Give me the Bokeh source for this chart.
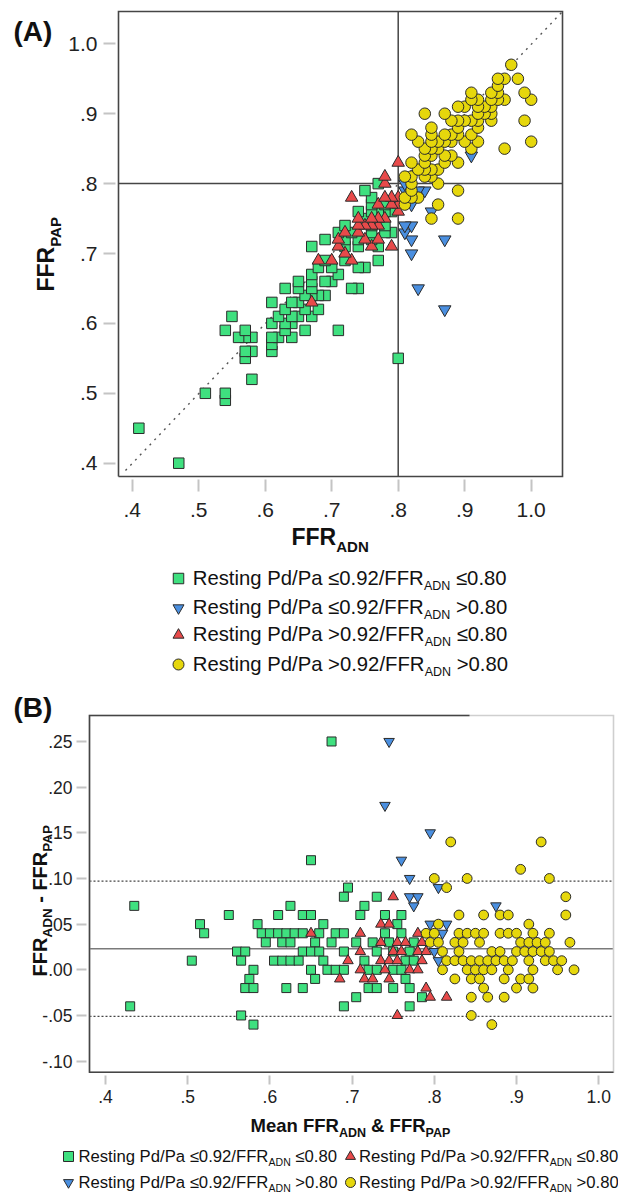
import math
from bokeh.plotting import figure
from bokeh.models import (Range1d, FixedTicker, CustomJSTickFormatter, Label, ColumnDataSource)
from bokeh.layouts import column
from bokeh.embed import file_html
from bokeh.resources import INLINE

# ------------------------------------------------------------------ data
# FFR_ADN / FFR_PAP pairs per group
green_adn = [0.80, 0.71, 0.74,
             0.73, 0.77,
             0.47, 0.66, 0.75,
             0.58, 0.64, 0.67, 0.68, 0.74, 0.77, 0.79,
             0.54, 0.61, 0.69, 0.78,
             0.54, 0.61, 0.62, 0.63, 0.64, 0.65, 0.66, 0.68, 0.70, 0.71, 0.76, 0.78,
             0.61, 0.63, 0.64, 0.67, 0.69, 0.72, 0.74, 0.76, 0.79,
             0.57, 0.58, 0.65, 0.66, 0.67, 0.70, 0.74, 0.76, 0.78,
             0.51, 0.57, 0.61, 0.62, 0.63, 0.64, 0.67, 0.72, 0.77, 0.78,
             0.58, 0.65, 0.67, 0.68, 0.69, 0.72, 0.73, 0.75, 0.76,
             0.57, 0.65, 0.76,
             0.56, 0.57, 0.61, 0.63, 0.71, 0.72, 0.74, 0.76,
             0.69, 0.77,
             0.41, 0.67, 0.75,
             0.54,
             0.55]
green_pap = [0.55, 0.59, 0.65,
             0.65, 0.69,
             0.40, 0.59, 0.68,
             0.52, 0.58, 0.61, 0.62, 0.68, 0.71, 0.73,
             0.49, 0.56, 0.64, 0.73,
             0.50, 0.57, 0.58, 0.59, 0.60, 0.61, 0.62, 0.64, 0.66, 0.67, 0.72, 0.74,
             0.58, 0.60, 0.61, 0.64, 0.66, 0.69, 0.71, 0.73, 0.76,
             0.55, 0.56, 0.63, 0.64, 0.65, 0.68, 0.72, 0.74, 0.76,
             0.50, 0.56, 0.60, 0.61, 0.62, 0.63, 0.66, 0.71, 0.76, 0.77,
             0.58, 0.65, 0.67, 0.68, 0.69, 0.72, 0.73, 0.75, 0.76,
             0.58, 0.66, 0.77,
             0.58, 0.59, 0.63, 0.65, 0.73, 0.74, 0.76, 0.78,
             0.72, 0.80,
             0.45, 0.71, 0.79,
             0.59,
             0.61]

blue_adn = [0.87, 0.83, 0.87, 0.82, 0.82, 0.85, 0.81, 0.82, 0.81, 0.91, 0.82, 0.84, 0.83, 0.81, 0.81]
blue_pap = [0.62, 0.65, 0.72, 0.70, 0.72, 0.76, 0.73, 0.74, 0.74, 0.84, 0.77, 0.79, 0.79, 0.79, 0.80]

red_adn = [0.79, 0.76, 0.77, 0.67, 0.73, 0.80, 0.75, 0.77, 0.78, 0.80, 0.72, 0.76, 0.77, 0.79, 0.80, 0.70,
           0.74, 0.75, 0.76, 0.79, 0.71, 0.74, 0.77, 0.78, 0.68, 0.71, 0.72, 0.74, 0.78, 0.78, 0.80, 0.73]
red_pap = [0.71, 0.71, 0.72, 0.63, 0.69, 0.76, 0.72, 0.74, 0.75, 0.77, 0.70, 0.74, 0.75, 0.77, 0.78, 0.69,
           0.73, 0.74, 0.75, 0.78, 0.71, 0.74, 0.77, 0.78, 0.69, 0.72, 0.73, 0.75, 0.80, 0.81, 0.83, 0.78]

yellow_adn = [0.89, 1.00, 0.96, 0.85, 0.89, 0.99, 0.86, 1.00, 0.86, 0.89, 0.91, 0.92, 0.99, 0.83, 0.94,
              0.81, 0.82, 0.85, 0.86, 0.87, 0.88, 0.90, 0.91, 0.92, 0.94, 0.96,
              0.81, 0.82, 0.84, 0.85, 0.87, 0.92, 0.93, 0.94, 0.95, 0.98,
              0.82, 0.84, 0.88, 0.89, 0.91, 0.92, 0.93, 0.94, 0.95,
              0.82, 0.83, 0.84, 0.85, 0.86, 0.87, 0.88, 0.89, 0.90, 0.92, 0.94, 0.95, 0.96,
              0.81, 0.84, 0.85, 0.86, 0.87, 0.89, 0.92, 0.95, 0.97,
              0.82, 0.84, 0.85, 0.88, 0.90, 0.91,
              0.85, 0.89, 0.91,
              0.83, 0.85, 0.87,
              0.82, 0.84]
yellow_pap = [0.75, 0.86, 0.85, 0.75, 0.79, 0.89, 0.77, 0.92, 0.80, 0.83, 0.85, 0.86, 0.93, 0.78, 0.89,
              0.77, 0.78, 0.81, 0.82, 0.83, 0.84, 0.86, 0.87, 0.88, 0.90, 0.92,
              0.78, 0.79, 0.81, 0.82, 0.84, 0.89, 0.90, 0.91, 0.92, 0.95,
              0.80, 0.82, 0.86, 0.87, 0.89, 0.90, 0.91, 0.92, 0.93,
              0.81, 0.82, 0.83, 0.84, 0.85, 0.86, 0.87, 0.88, 0.89, 0.91, 0.93, 0.94, 0.95,
              0.81, 0.84, 0.85, 0.86, 0.87, 0.89, 0.92, 0.95, 0.97,
              0.83, 0.85, 0.86, 0.89, 0.91, 0.92,
              0.87, 0.91, 0.93,
              0.86, 0.88, 0.90,
              0.87, 0.90]

legend_main = ["Resting Pd/Pa \u22640.92/FFR", "Resting Pd/Pa \u22640.92/FFR",
               "Resting Pd/Pa >0.92/FFR", "Resting Pd/Pa >0.92/FFR"]
legend_sub = "ADN"
legend_tail = [" \u22640.80", " >0.80", " \u22640.80", " >0.80"]

a_ticks = [0.4, 0.5, 0.6, 0.7, 0.8, 0.9, 1.0]
b_x_ticks = [0.4, 0.5, 0.6, 0.7, 0.8, 0.9, 1.0]
b_y_ticks = [-0.10, -0.05, 0.0, 0.05, 0.10, 0.15, 0.20, 0.25]
cutoff = 0.80
b_bias = 0.023
b_loa_upper = 0.097
b_loa_lower = -0.051

# ------------------------------------------------------------------ styles
FONT = "Liberation Sans"
GREEN, BLUE, RED, YELLOW = "#3fe07f", "#4a8fe0", "#e84a4a", "#e6d70c"
EDGE = "#2b2b2b"
DARK = "#454545"
groups = [
    (green_adn, green_pap, "square", GREEN),
    (blue_adn, blue_pap, "inverted_triangle", BLUE),
    (red_adn, red_pap, "triangle", RED),
    (yellow_adn, yellow_pap, "circle", YELLOW),
]

W_REG = {' ': 278, 'R': 722, 'e': 556, 's': 500, 't': 278, 'i': 222, 'n': 556, 'g': 556, 'P': 667,
         'd': 556, '/': 278, 'a': 556, '\u2264': 549, '.': 278, 'F': 611, '>': 584, 'A': 667,
         'D': 722, 'N': 722, 'M': 833, '&': 667, '-': 333, '(': 333, ')': 333, 'B': 667}
W_BOLD = {' ': 278, 'F': 611, 'R': 722, 'P': 667, 'A': 722, 'D': 722, 'N': 722, 'M': 833,
          'e': 556, 'a': 556, 'n': 611, '&': 722, '-': 333, '(': 333, ')': 333, 'B': 722}


def tw(s, size, bold=False):
    t = W_BOLD if bold else W_REG
    return sum(t.get(c, 556) for c in s) * size / 1000.0


CAP_MID = 0.36  # the rendered anchor lands on the middle of the capitals


def rich(p, conv, px, py, pieces, angle=0.0, color="#111111"):
    """px, py: page position of the start of the text on its baseline."""
    off = 0.0
    for text, size, bold, shift in pieces:
        lead = len(text) - len(text.lstrip(' '))
        off += tw(' ' * lead, size, bold)
        t = text.lstrip(' ')
        if angle == 0.0:
            x, y = conv(px + off, py + shift - CAP_MID * size)
        else:
            x, y = conv(px + shift - CAP_MID * size, py - off)
        p.add_layout(Label(x=x, y=y, text=t, text_font=FONT, text_font_size=f"{size}px",
                           text_font_style="bold" if bold else "normal", text_align="left",
                           text_baseline="alphabetic", angle=angle, text_color=color))
        off += tw(t, size, bold)


FMT = "const s = tick.toFixed(n); return s.replace(/^(-?)0\\./, '$1.');"


def style_axis(ax, size, tout, standoff):
    ax.axis_line_color = None
    ax.major_tick_out = tout
    ax.major_tick_in = -3
    ax.minor_tick_line_color = None
    ax.major_tick_line_color = "#c4c4c4"
    ax.major_tick_line_width = 2
    ax.major_label_text_font = FONT
    ax.major_label_text_font_size = size
    ax.major_label_text_color = "#222222"
    ax.major_label_standoff = standoff


FIG_W = 618

# ------------------------------------------------------------------ panel A (+ legend A)
A_H = 680
A_PX, A_SX = 131.7, 665.0      # page x of 0.4, px per unit
A_PY, A_SY = 462.7, 699.0      # page y of 0.4, px per unit


def a_x(px):
    return 0.4 + (px - A_PX) / A_SX


def a_y(py):
    return 0.4 - (py - A_PY) / A_SY


def conv_a(px, py):
    return a_x(px), a_y(py)


AL, AR, AT, AB = a_x(118), a_x(562), a_y(11), a_y(476)

pA = figure(width=FIG_W, height=A_H, x_range=Range1d(a_x(0), a_x(FIG_W)),
            y_range=Range1d(a_y(A_H), a_y(0)), min_border=0, toolbar_location=None,
            output_backend="svg", title=None, outline_line_color=None)
pA.grid.visible = False
pA.xaxis.fixed_location = AB
pA.yaxis.fixed_location = AL
for ax in (pA.xaxis[0], pA.yaxis[0]):
    ax.ticker = FixedTicker(ticks=a_ticks)
    ax.formatter = CustomJSTickFormatter(args=dict(n=1), code=FMT)
style_axis(pA.xaxis[0], "21px", 15, 11)
style_axis(pA.yaxis[0], "21px", 15, 6)

# reference lines
pA.segment(x0=[cutoff, AL], y0=[AB, cutoff], x1=[cutoff, AR], y1=[AT, cutoff],
           line_color=DARK, line_width=1.5)
pA.segment(x0=[a_x(125)], y0=[a_y(470)], x1=[AR], y1=[AT], line_color="#555555",
           line_dash="2 5", line_width=1.4)

A_SIZES = {"square": 10.5, "inverted_triangle": 12.5, "triangle": 12.5, "circle": 11.5}
for adn, pap, marker, color in groups:
    pA.scatter(adn, pap, marker=marker, size=A_SIZES[marker], fill_color=color,
               line_color=EDGE, line_width=1)

pA.multi_line(xs=[[AL, AR, AR, AL, AL]], ys=[[AB, AB, AT, AT, AB]], line_color=DARK,
              line_width=1.6, line_join="miter")

rich(pA, conv_a, 13, 41, [("(A)", 28, True, 0)])
rich(pA, conv_a, 291, 545, [("FFR", 23, True, 0), ("ADN", 15, True, 6.5)])
rich(pA, conv_a, 53.5, 291, [("FFR", 23, True, 0), ("PAP", 15, True, 7)], angle=math.pi / 2)

la_base = [585, 614, 641, 671]
la_mark = [578, 607.5, 634.5, 664]
for i, (adn, pap, marker, color) in enumerate(groups):
    mx, my = conv_a(178, la_mark[i])
    pA.scatter([mx], [my], marker=marker, size=11 if marker != "square" else 10.5,
               fill_color=color, line_color=EDGE, line_width=1)
    rich(pA, conv_a, 192.3, la_base[i],
         [(legend_main[i], 20.3, False, 0), (legend_sub, 12.5, False, 5),
          (legend_tail[i], 20.3, False, 0)])

# ------------------------------------------------------------------ panel B (+ legend B)
B_TOP = A_H
B_H = 1194 - A_H
B_PX, B_SX = 105.0, 822.0      # page x of 0.4
B_PY, B_SY = 969.3, 913.3      # page y of 0.00


def b_x(px):
    return 0.4 + (px - B_PX) / B_SX


def b_y(py):
    return -(py - B_PY) / B_SY


def conv_b(px, py):
    return b_x(px), b_y(py)


BL, BR, BT, BB = b_x(89), b_x(613), b_y(715), b_y(1071.7)

pB = figure(width=FIG_W, height=B_H, x_range=Range1d(b_x(0), b_x(FIG_W)),
            y_range=Range1d(b_y(B_TOP + B_H), b_y(B_TOP)), min_border=0,
            toolbar_location=None, output_backend="svg", title=None, outline_line_color=None)
pB.grid.visible = False
pB.xaxis.fixed_location = BB
pB.yaxis.fixed_location = BL
pB.xaxis.ticker = FixedTicker(ticks=b_x_ticks)
pB.xaxis.formatter = CustomJSTickFormatter(args=dict(n=1), code=FMT)
pB.yaxis.ticker = FixedTicker(ticks=b_y_ticks)
pB.yaxis.formatter = CustomJSTickFormatter(args=dict(n=2), code=FMT)
style_axis(pB.xaxis[0], "17.5px", 12, 6)
style_axis(pB.yaxis[0], "17.5px", 13, 4)

pB.segment(x0=[BL], y0=[b_bias], x1=[BR], y1=[b_bias], line_color="#7a7a7a", line_width=1.5)
pB.segment(x0=[BL, BL], y0=[b_loa_upper, b_loa_lower], x1=[BR, BR],
           y1=[b_loa_upper, b_loa_lower], line_color=DARK, line_width=1.2, line_dash="2 2")

B_SIZES = {"square": 9, "inverted_triangle": 10.5, "triangle": 10.5, "circle": 9.8}
for adn, pap, marker, color in groups:
    src = ColumnDataSource(dict(
        mean=[(a + b) / 2 for a, b in zip(adn, pap)],
        diff=[a - b for a, b in zip(adn, pap)]))
    pB.scatter("mean", "diff", source=src, marker=marker, size=B_SIZES[marker],
               fill_color=color, line_color=EDGE, line_width=1)

pB.multi_line(xs=[[BL, BR, BR, BL, BL]], ys=[[BB, BB, BT, BT, BB]], line_color="#cfcfcf",
              line_width=1.6, line_join="miter")
pB.multi_line(xs=[[b_x(469), BL, BL, BR]], ys=[[BT, BT, BB, BB]], line_color=DARK,
              line_width=1.6, line_join="miter")

rich(pB, conv_b, 13, 717, [("(B)", 28, True, 0)])
rich(pB, conv_b, 250, 1132, [("Mean FFR", 18.5, True, 0), ("ADN", 12.5, True, 5),
                             (" & FFR", 18.5, True, 0), ("PAP", 12.5, True, 5)])
rich(pB, conv_b, 46.5, 976, [("FFR", 20, True, 0), ("ADN", 13.5, True, 5.5),
                             (" - FFR", 20, True, 0), ("PAP", 13.5, True, 5.5)],
     angle=math.pi / 2)

lb_slots = [(0, 0), (0, 1), (1, 0), (1, 1)]  # (col, row) for green, blue, red, yellow
lb_mark_x = [68, 350]
lb_text_x = [77.9, 358.5]
lb_base = [1162, 1188]
for i, (adn, pap, marker, color) in enumerate(groups):
    c, r = lb_slots[i]
    mx, my = conv_b(lb_mark_x[c], lb_base[r] - 6)
    pB.scatter([mx], [my], marker=marker, size=10, fill_color=color, line_color=EDGE,
               line_width=1)
    rich(pB, conv_b, lb_text_x[c], lb_base[r],
         [(legend_main[i], 16.7, False, 0), (legend_sub, 10.5, False, 3.5),
          (legend_tail[i], 16.7, False, 0)])

layout = column(pA, pB, spacing=0)
open("out.html", "w").write(file_html(layout, INLINE))
